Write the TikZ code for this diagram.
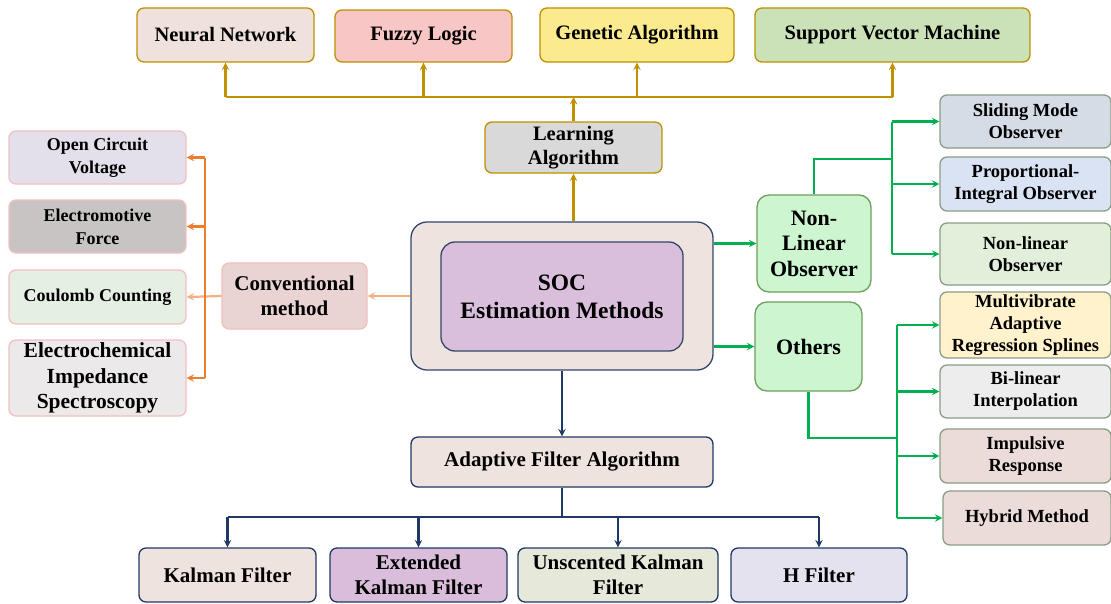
\documentclass[tikz,border=0pt]{standalone}
\usepackage{fontspec}
\setmainfont{Liberation Serif}
\definecolor{goldline}{HTML}{BF9000}
\definecolor{navyline}{HTML}{1F3864}
\definecolor{greenline}{HTML}{00B050}
\definecolor{orangeline}{HTML}{ED7D31}
\definecolor{peachline}{HTML}{F4B183}
\definecolor{pinkedge}{HTML}{F2C0C0}
\definecolor{greenedge}{HTML}{6E9E5C}
\definecolor{grayedge}{HTML}{8A9E86}
\definecolor{socfill}{RGB}{239,227,224}
\definecolor{obsfill}{RGB}{204,245,208}
\newcommand{\fs}[2]{\fontsize{#1}{#2}\selectfont\bfseries}

\begin{document}
\begin{tikzpicture}[x=1pt, y=-1pt,
    box/.style = {draw, rounded corners=7pt, line width=1.3pt, align=center, inner sep=1pt},
    topbox/.style = {box, draw=goldline, font=\fs{20.5}{24}},
    leftbox/.style = {box, draw=pinkedge, minimum width=177pt, font=\fs{18}{23}},
    rightbox/.style = {box, draw=grayedge, minimum width=171pt, font=\fs{18.5}{22}},
    filterbox/.style = {box, draw=navyline, minimum height=54pt, font=\fs{21}{25}},
    obsbox/.style = {box, draw=greenedge, rounded corners=12pt, fill=obsfill, font=\fs{22}{25.5}},
    link/.style = {line width=2.2pt, >=stealth},
]
    \fill[white] (0,0) rectangle (1111,603);
    \useasboundingbox (0,0) rectangle (1111,603);

    % centre
    \node[box, draw=navyline!80!gray, rounded corners=16pt, fill=socfill, minimum width=302pt, minimum height=148pt] (soc) at (562,296) {};
    \node[box, draw=navyline!80!gray, rounded corners=14pt, fill={rgb,255:red,217;green,191;blue,220}, minimum width=242pt, minimum height=109pt, font=\fs{23.5}{28}] (socin) at (562,296.5) {SOC\\Estimation Methods};

    % learning algorithms
    \node[topbox, fill=gray!30, minimum width=177pt, minimum height=51pt] (learn) at (573.5,147.5) {Learning\\Algorithm};
    \node[topbox, fill={rgb,255:red,239;green,225;blue,220}, minimum width=177pt, minimum height=54pt] (nn) at (225.5,35) {Neural Network};
    \node[topbox, fill={rgb,255:red,249;green,198;blue,198}, minimum width=177pt, minimum height=52pt] (fl) at (423.5,36) {Fuzzy Logic};
    \node[topbox, fill={rgb,255:red,251;green,235;blue,142}, minimum width=194pt, minimum height=54pt] (ga) at (637,35) {Genetic Algorithm};
    \node[topbox, fill={rgb,255:red,203;green,225;blue,184}, minimum width=275pt, minimum height=54pt] (svm) at (892.5,35) {Support Vector Machine};

    % conventional
    \node[box, draw=pinkedge, fill={rgb,255:red,234;green,211;blue,211}, minimum width=145pt, minimum height=66pt, font=\fs{21}{25}] (conv) at (294.5,296) {Conventional\\method};
    \node[leftbox, fill={rgb,255:red,227;green,224;blue,235}, minimum height=53pt] (ocv) at (97.5,157.5) {Open Circuit\\Voltage};
    \node[leftbox, fill={rgb,255:red,200;green,196;blue,196}, minimum height=53pt] (emf) at (97.5,226.5) {Electromotive\\Force};
    \node[leftbox, fill={rgb,255:red,230;green,239;blue,227}, minimum height=54pt] (cc) at (97.5,297) {Coulomb Counting};
    \node[leftbox, fill={rgb,255:red,236;green,233;blue,234}, minimum height=76pt, font=\fs{21.5}{25.5}] (eis) at (97.5,378) {Electrochemical\\Impedance\\Spectroscopy};

    % observers
    \node[obsbox, minimum width=114pt, minimum height=97pt] (nlo) at (814,243.5) {Non-\\Linear\\Observer};
    \node[obsbox, minimum width=107pt, minimum height=89pt] (oth) at (808.5,346.5) {Others};
    \node[rightbox, fill={rgb,255:red,214;green,220;blue,229}, minimum height=53pt] (smo) at (1025.5,121.5) {Sliding Mode\\Observer};
    \node[rightbox, fill={rgb,255:red,218;green,227;blue,243}, minimum height=54pt] (pio) at (1025.5,184) {Proportional-\\Integral Observer};
    \node[rightbox, fill={rgb,255:red,226;green,239;blue,218}, minimum height=62pt] (nlin) at (1025.5,254) {Non-linear\\Observer};
    \node[rightbox, fill={rgb,255:red,255;green,242;blue,204}, minimum height=66pt] (mars) at (1025.5,325) {Multivibrate\\Adaptive\\Regression Splines};
    \node[rightbox, fill={rgb,255:red,237;green,237;blue,237}, minimum height=53pt] (bil) at (1025.5,391.5) {Bi-linear\\Interpolation};
    \node[rightbox, fill={rgb,255:red,235;green,220;blue,217}, minimum height=54pt] (imp) at (1025.5,456) {Impulsive\\Response};
    \node[rightbox, fill={rgb,255:red,235;green,220;blue,217}, minimum height=54pt, minimum width=168pt] (hyb) at (1027,518) {Hybrid Method};

    % adaptive filters
    \node[filterbox, fill=socfill, minimum width=302pt, minimum height=50pt] (afa) at (562,462) {Adaptive Filter Algorithm};
    \node[filterbox, fill=socfill, minimum width=177pt] (kf) at (227.5,575) {Kalman Filter};
    \node[filterbox, fill={rgb,255:red,217;green,189;blue,218}, minimum width=177pt] (ekf) at (418.5,575) {Extended\\Kalman Filter};
    \node[filterbox, fill={rgb,255:red,230;green,232;blue,218}, minimum width=200pt] (ukf) at (618,575) {Unscented Kalman\\Filter};
    \node[filterbox, fill={rgb,255:red,228;green,226;blue,238}, minimum width=176pt] (hf) at (819,575) {H Filter};

    % bus points
    \coordinate (tbus) at (573,97);
    \coordinate (lbus) at (205,296);
    \coordinate (rbusa) at (892,159);
    \coordinate (rbusb) at (897,438);
    \coordinate (bbus) at (562,517);

    % learning links
    \draw[link, goldline, ->] (soc.north -| learn) -- (learn.south);
    \draw[link, goldline, ->] (learn.north) -- (learn.north |- tbus);
    \draw[link, goldline] (nn.south |- tbus) -- (svm.south |- tbus);
    \foreach \n in {nn, fl, ga, svm}
        \draw[link, goldline, ->] (\n.south |- tbus) -- (\n.south);

    % conventional links
    \draw[link, peachline, ->] (soc.west) -- (conv.east);
    \draw[link, peachline, ->] (conv.west) -- (cc.east);
    \draw[link, orangeline] (lbus |- ocv.east) -- (lbus |- eis.east);
    \foreach \n in {ocv, emf, eis}
        \draw[link, orangeline, ->] (lbus |- \n.east) -- (\n.east);

    % observer links
    \draw[link, greenline, ->] (soc.east |- nlo.west) -- (nlo.west);
    \draw[link, greenline, ->] (soc.east |- oth.west) -- (oth.west);
    \draw[link, greenline] (nlo.north) |- (rbusa);
    \draw[link, greenline] (rbusa |- smo.west) -- (rbusa |- nlin.west);
    \foreach \n in {smo, pio, nlin}
        \draw[link, greenline, ->] (rbusa |- \n.west) -- (\n.west);
    \draw[link, greenline] (oth.south) |- (rbusb);
    \draw[link, greenline] (rbusb |- mars.west) -- (rbusb |- hyb.west);
    \foreach \n in {mars, bil, imp, hyb}
        \draw[link, greenline, ->] (rbusb |- \n.west) -- (\n.west);

    % filter links
    \draw[link, navyline, ->] (soc.south) -- (afa.north);
    \draw[link, navyline] (afa.south) -- (bbus);
    \draw[link, navyline] (kf.north |- bbus) -- (hf.north |- bbus);
    \foreach \n in {kf, ekf, ukf, hf}
        \draw[link, navyline, ->] (\n.north |- bbus) -- (\n.north);
\end{tikzpicture}
\end{document}
